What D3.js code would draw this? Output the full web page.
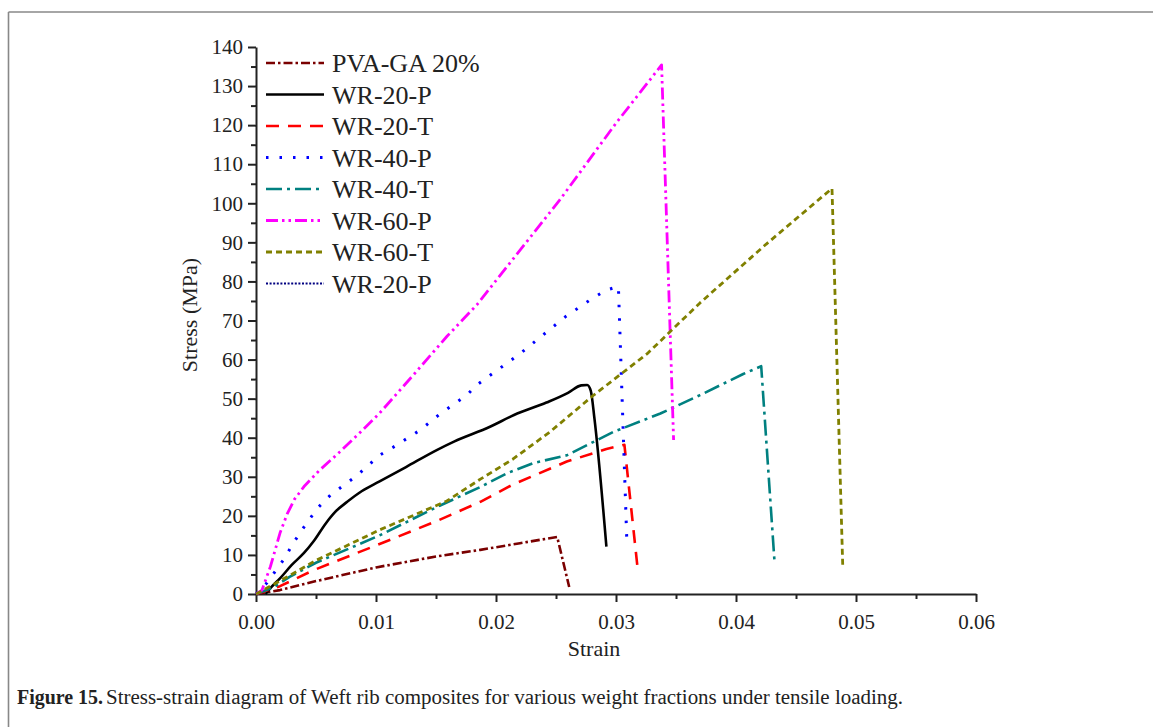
<!DOCTYPE html>
<meta charset="utf-8">
<style>
  body {margin: 0; background: #fff;}
  svg text {font-family: "Liberation Serif", "Times New Roman", serif; fill: #222;}
</style>
<svg width="1153" height="727"></svg>
<script src="https://d3js.org/d3.v7.min.js"></script>
<script>
  /**
   * ------------------------------------------------------------------
   * data (strain, stress in MPa)
   * ------------------------------------------------------------------
   */
  const seriesNames = ["PVA-GA 20%", "WR-20-P", "WR-20-T", "WR-40-P", "WR-40-T", "WR-60-P", "WR-60-T", "WR-20-P"];

  const pvaGa20 = [[0,0],[0.002,1],[0.005,3.3],[0.01,6.8],[0.015,9.6],[0.0187,11.3],[0.022,13],[0.0251,14.6],[0.0261,1.8]];
  const wr20P = [[0.0008,0],[0.0012,1.5],[0.002,4],[0.003,7.5],[0.004,10.5],[0.0048,13.5],[0.0058,18],[0.0066,21],[0.0076,23.6],[0.0088,26.3],[0.0103,28.8],[0.0125,32.5],[0.0151,36.9],[0.0165,39],[0.0195,42.8],[0.0215,45.8],[0.0242,49],[0.026,51.5],[0.0271,53.4],[0.0276,53.5],[0.0279,52],[0.0282,45],[0.0292,12.1]];
  const wr20T = [[0,0],[0.002,2],[0.0048,6.1],[0.0103,12.8],[0.015,18.6],[0.0187,23.6],[0.0214,28],[0.0259,33.9],[0.0292,37.1],[0.0307,38.2],[0.0318,6.6]];
  const wr40P = [[0,0],[0.0009,2.8],[0.0024,9.2],[0.003,12.5],[0.0037,15.8],[0.0044,18.9],[0.0052,22.2],[0.0062,25.3],[0.0073,27.8],[0.0084,30.3],[0.0103,35.5],[0.0114,37.5],[0.0137,42],[0.0153,46],[0.0176,51],[0.0184,53.5],[0.022,61.5],[0.0258,71],[0.027,73.5],[0.0281,75.8],[0.0292,77.8],[0.0302,78.7],[0.0309,13.8]];
  const wr40T = [[0,0],[0.0015,1.8],[0.0028,4.4],[0.005,8],[0.0103,15],[0.0153,22.6],[0.0187,27.4],[0.021,31],[0.0231,33.5],[0.0259,35.5],[0.0298,41.5],[0.0337,46.2],[0.037,50.9],[0.0406,56.3],[0.0421,58.3],[0.0432,8.7]];
  const wr60P = [[0,0],[0.0005,1],[0.0012,7],[0.002,15.6],[0.0026,20.5],[0.0032,24.2],[0.004,27.5],[0.0053,31.7],[0.007,36.4],[0.0089,42],[0.0103,46.3],[0.0131,56],[0.0159,65.9],[0.0184,74],[0.0253,100.8],[0.03,120.5],[0.0338,135.4],[0.0348,39.4]];
  const wr60T = [[0,0],[0.0025,4.2],[0.005,8.6],[0.0103,16.4],[0.0159,23.8],[0.0187,29.4],[0.0214,34.5],[0.0245,41.5],[0.0281,50.8],[0.0326,61.5],[0.037,74.5],[0.0425,89.5],[0.048,103.8],[0.0489,6.6]];
  const wr20P2 = [];

  const xTicks = [0, 0.01, 0.02, 0.03, 0.04, 0.05, 0.06];
  const yTicks = [0, 10, 20, 30, 40, 50, 60, 70, 80, 90, 100, 110, 120, 130, 140];

  /**
   * ------------------------------------------------------------------
   * styles per series
   * ------------------------------------------------------------------
   */
  const allSeries = [pvaGa20, wr20P, wr20T, wr40P, wr40T, wr60P, wr60T, wr20P2];
  const colors = ["#7a0000", "#000000", "#ff0000", "#0000ff", "#008080", "#ff00ff", "#808000", "#000080"];
  const dashes = ["9,3,2.5,3", null, "13,9", "2.5,11", "16,5,3,5", "12,4,2.5,4,2.5,4", "6,4", "2,1.6"];
  const widths = [2.6, 2.6, 2.6, 3, 2.6, 2.8, 2.8, 2.2];

  const svg = d3.select("svg");

  // frame lines of the figure box
  svg.append("line").attr("x1", 8.5).attr("x2", 1153).attr("y1", 12).attr("y2", 12)
    .attr("stroke", "#888").attr("stroke-width", 1.6);
  svg.append("line").attr("x1", 8.5).attr("x2", 8.5).attr("y1", 12).attr("y2", 727)
    .attr("stroke", "#888").attr("stroke-width", 1.6);

  const x = d3.scaleLinear().domain([0, 0.06]).range([256, 976]);
  const y = d3.scaleLinear().domain([0, 140]).range([594, 47]);

  /**------------------------------------------------------------------
   * axes
   **----------------------------------------------------------------**/
  const xAxis = svg.append("g").attr("transform", "translate(0,594)")
    .call(d3.axisBottom(x).tickValues(xTicks).tickFormat(d3.format(".2f")).tickSize(8).tickSizeOuter(0));
  svg.append("g").attr("transform", "translate(0,594)")
    .call(d3.axisBottom(x).tickValues(d3.range(0.005, 0.06, 0.01)).tickFormat("").tickSize(5).tickSizeOuter(0))
    .select(".domain").remove();

  const yAxis = svg.append("g").attr("transform", "translate(256,0)")
    .call(d3.axisLeft(y).tickValues(yTicks).tickSize(8).tickSizeOuter(0));
  svg.append("g").attr("transform", "translate(256,0)")
    .call(d3.axisLeft(y).tickValues(d3.range(5, 140, 10)).tickFormat("").tickSize(5).tickSizeOuter(0))
    .select(".domain").remove();

  svg.selectAll(".domain, .tick line").attr("stroke", "#222").attr("stroke-width", 2);
  xAxis.selectAll("text").attr("font-size", 21).attr("dy", "1.15em").attr("fill", "#222")
    .style("font-family", "Liberation Serif");
  yAxis.selectAll("text").attr("font-size", 21).attr("dx", "-0.1em").attr("fill", "#222")
    .style("font-family", "Liberation Serif");

  svg.append("text").attr("x", 594).attr("y", 656).attr("text-anchor", "middle")
    .attr("font-size", 22).text("Strain");
  svg.append("text").attr("transform", "translate(197,315) rotate(-90)").attr("text-anchor", "middle")
    .attr("font-size", 22).text("Stress (MPa)");

  /**------------------------------------------------------------------
   * curves
   **----------------------------------------------------------------**/
  const line = d3.line().x(d => x(d[0])).y(d => y(d[1]));

  svg.append("g").selectAll("path")
    .data(allSeries.map((s, i) => ({values: s, i: i})).filter(d => d.values.length))
    .enter().append("path")
      .attr("d", d => line.curve(d.i === 1 ? d3.curveMonotoneX : d3.curveLinear)(d.values))
      .attr("fill", "none")
      .attr("stroke", d => colors[d.i])
      .attr("stroke-width", d => widths[d.i])
      .attr("stroke-dasharray", d => dashes[d.i])
      .attr("stroke-linejoin", "round");

  /**------------------------------------------------------------------
   * legend
   **----------------------------------------------------------------**/
  const legend = svg.append("g").selectAll("g")
    .data(seriesNames)
    .enter().append("g")
      .attr("transform", (d, i) => "translate(0," + (63 + i * 31.5) + ")");
  legend.append("line")
    .attr("x1", 266).attr("x2", 324).attr("y1", 0).attr("y2", 0)
    .attr("stroke", (d, i) => colors[i])
    .attr("stroke-width", (d, i) => widths[i])
    .attr("stroke-dasharray", (d, i) => dashes[i]);
  legend.append("text")
    .attr("x", 332).attr("y", 0).attr("dy", "0.35em")
    .attr("font-size", 26)
    .text(d => d);

  /**------------------------------------------------------------------
   * caption
   **----------------------------------------------------------------**/
  const caption = svg.append("text").attr("x", 17).attr("y", 704).attr("font-size", 20);
  caption.append("tspan").attr("font-weight", "bold")
    .attr("textLength", 86).attr("lengthAdjust", "spacingAndGlyphs").text("Figure 15.");
  caption.append("tspan").attr("dx", 3)
    .attr("textLength", 797).attr("lengthAdjust", "spacingAndGlyphs")
    .text("Stress-strain diagram of Weft rib composites for various weight fractions under tensile loading.");
</script>
